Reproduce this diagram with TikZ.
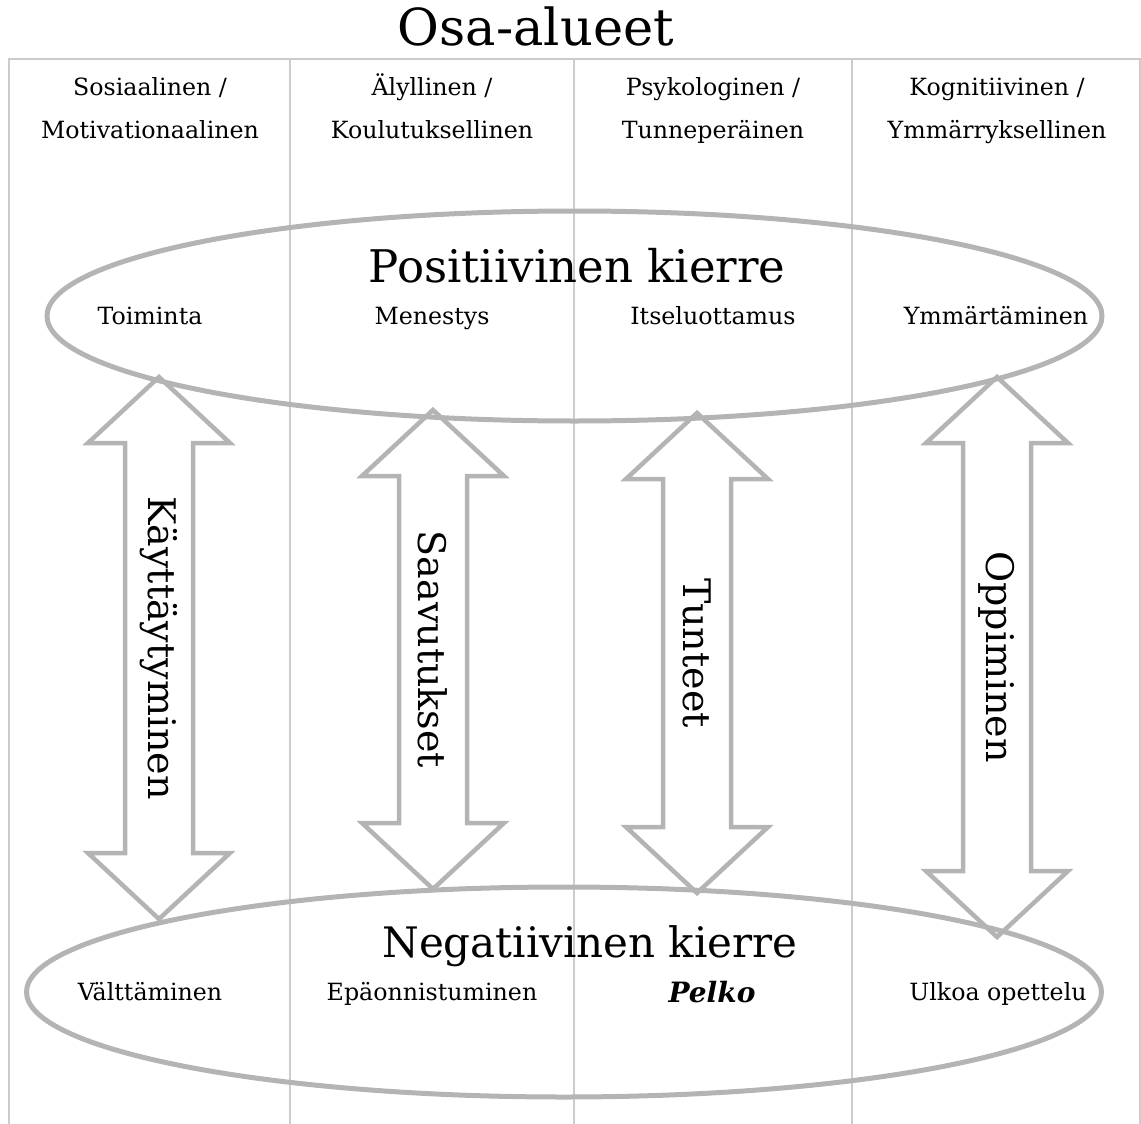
\documentclass[tikz,border=0pt]{standalone}
\usepackage{fontspec}
\setmainfont{DejaVu Serif}
\usetikzlibrary{shapes.geometric}
\definecolor{gridgray}{RGB}{204,204,204}
\definecolor{loopgray}{RGB}{180,180,180}
\begin{document}
\begin{tikzpicture}[x=1pt,y=-1pt,
  cell/.style={font=\fontsize{23.7}{43}\selectfont,align=center,anchor=base},
  item/.style={font=\fontsize{23.7}{28}\selectfont,anchor=base},
  big/.style={font=\fontsize{45}{50}\selectfont,anchor=base},
  side/.style={font=\fontsize{38}{40}\selectfont,rotate=-90},
  loop/.style={draw=loopgray,line width=5pt,ellipse,inner sep=0pt},
  fatarrow/.style={draw=loopgray,line width=4.5pt,line join=miter}]
\useasboundingbox (0,0) rectangle (1141,1124);
\draw[gridgray,line width=1.5pt] (9,1124) -- (9,59) -- (1140,59) -- (1140,1124);
\foreach \x in {290,574,852} \draw[gridgray,line width=1.5pt] (\x,59) -- (\x,1124);

\node[big,font=\fontsize{51}{56}\selectfont] (title) at (536,46) {Osa-alueet};

\node[cell] (sos) at (150,138) {Sosiaalinen /\\Motivationaalinen};
\node[cell] (aly) at (432,138) {Älyllinen /\\Koulutuksellinen};
\node[cell] (psy) at (713,138) {Psykologinen /\\Tunneperäinen};
\node[cell] (kog) at (997,138) {Kognitiivinen /\\Ymmärryksellinen};

\node[loop,minimum width=1055pt,minimum height=210pt] (poskierre) at (574.5,316) {};
\node[big] (postitle) at (577,282) {Positiivinen kierre};
\node[item] (toiminta) at (150,324) {Toiminta};
\node[item] (menestys) at (432,324) {Menestys};
\node[item] (itselu) at (713,324) {Itseluottamus};
\node[item] (ymmart) at (996,324) {Ymmärtäminen};

\node[loop,minimum width=1075pt,minimum height=210pt] (negkierre) at (564,992) {};
\node[big,font=\fontsize{42}{48}\selectfont] (negtitle) at (590,957) {Negatiivinen kierre};
\node[item] (valtt) at (150,1000) {Välttäminen};
\node[item] (epaon) at (432,1000) {Epäonnistuminen};
\node[item,font=\fontsize{28}{32}\selectfont] (pelko) at (712,1002) {\textbf{\textit{Pelko}}};
\node[item] (ulkoa) at (998,1000) {Ulkoa opettelu};

% double arrows between the two loops
\foreach \x/\t/\b/\n/\lab in {159/377/919/kayt/Käyttäytyminen, 433/410/889/saav/Saavutukset,
  697/413/893/tunt/Tunteet, 997/377/937/oppi/Oppiminen}{
  \draw[fatarrow] (\x,\t) -- (\x+71,\t+66) -- (\x+34,\t+66) -- (\x+34,\b-66) -- (\x+71,\b-66)
    -- (\x,\b) -- (\x-71,\b-66) -- (\x-34,\b-66) -- (\x-34,\t+66) -- (\x-71,\t+66) -- cycle;
  \node[side] (\n) at (\x,{(\t+\b)/2}) {\lab};
}
\end{tikzpicture}
\end{document}
